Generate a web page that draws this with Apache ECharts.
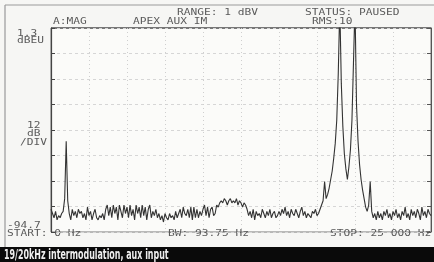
<!DOCTYPE html>
<html>
<head>
<meta charset="utf-8">
<script src="https://cdn.jsdelivr.net/npm/echarts@6/dist/echarts.min.js"></script>
<style>
    html, body { margin: 0; padding: 0; background: #f4f4f2; }
    #chart { width: 434px; height: 262px; }
</style>
</head>
<body>
<div id="chart"></div>
<script>
    // spectrum: one point every 100 Hz, 0 .. 25 000 Hz, level in dBV
    var freqStep = 100;
    var levels = [
        -84, -86, -88, -85, -89, -87, -88, -86, -85, -79,
        -52, -80, -86, -89, -84, -87, -85, -88, -84, -86,
        -85, -88, -86, -89, -83, -87, -85, -89, -86, -84,
        -88, -89, -87, -88, -86, -89, -84, -82, -87, -83,
        -88, -82, -86, -83, -89, -82, -85, -88, -82, -86,
        -83, -88, -82, -87, -84, -89, -82, -86, -83, -88,
        -82, -87, -83, -89, -84, -82, -88, -85, -87, -84,
        -88, -86, -89, -87, -90, -86, -88, -89, -86, -88,
        -87, -89, -85, -88, -86, -84, -88, -83, -86, -87,
        -84, -88, -83, -89, -83, -88, -84, -88, -85, -87,
        -84, -82, -87, -83, -88, -84, -83, -87, -86, -82,
        -83, -81, -80, -81, -79, -80, -82, -80, -79, -81,
        -80, -81, -79, -82, -80, -81, -83, -81, -82, -84,
        -87, -85, -88, -84, -89, -85, -87, -86, -88, -84,
        -86, -88, -85, -87, -84, -88, -86, -85, -88, -87,
        -85, -87, -84, -86, -83, -87, -85, -88, -84, -86,
        -87, -84, -86, -88, -85, -83, -87, -85, -88, -86,
        -87, -88, -85, -86, -84, -87, -86, -84, -82, -80,
        -71, -79, -77, -74, -70, -66, -60, -53, -42, -20,
        12, -25, -45, -58, -65, -70, -64, -56, -42, -15,
        12, -35, -52, -63, -70, -75, -79, -83, -85, -82,
        -71, -85, -88, -86, -89, -85, -88, -86, -89, -85,
        -87, -84, -88, -86, -89, -85, -87, -84, -88, -86,
        -89, -85, -87, -83, -88, -86, -89, -84, -87, -85,
        -88, -84, -86, -89, -83, -87, -85, -88, -84, -86,
        -87
    ];
    var yTop = 1.3, yBottom = -94.7, dbPerDiv = 12;
    var fStart = 0, fStop = 25000;
    var title = '19/20kHz intermodulation, aux input';

    // axis counted in dB above the bottom line so the divisions start at 0
    var points = levels.map(function (v, i) { return [i * freqStep, v - yBottom]; });

    var ink = '#5a5a5a';
    function label(txt, x, y) {
        return {
            type: 'text', x: x, y: y, scaleX: 1.4,
            style: { text: txt, font: '8px "DejaVu Sans Mono"', fill: ink, verticalAlign: 'middle' }
        };
    }

    var chart = echarts.init(document.getElementById('chart'), null, { renderer: 'canvas' });
    chart.setOption({
        animation: false,
        backgroundColor: '#f6f6f4',
        grid: { left: 51, top: 28, right: 3, bottom: 30, show: true, backgroundColor: '#fbfbf9', borderColor: '#777', borderWidth: 1 },
        xAxis: {
            type: 'value', min: fStart, max: fStop, interval: 2500,
            axisLine: { show: false }, axisTick: { show: false }, axisLabel: { show: false },
            splitLine: { show: true, lineStyle: { color: '#cfcfcf', type: [1, 3], width: 1 } }
        },
        yAxis: [{
            type: 'value', min: 0, max: yTop - yBottom, interval: dbPerDiv, position: 'left',
            axisLine: { show: true, lineStyle: { color: '#444', width: 1.2 } },
            axisTick: { show: true, inside: true, length: 4, lineStyle: { color: '#444' } },
            axisLabel: { show: false },
            splitLine: { show: true, lineStyle: { color: '#d6d6d6', type: [3, 3], width: 1 } }
        }, {
            type: 'value', min: 0, max: yTop - yBottom, interval: dbPerDiv, position: 'right',
            axisLine: { show: true, lineStyle: { color: '#555', width: 1 } },
            axisTick: { show: true, inside: true, length: 4, lineStyle: { color: '#555' } },
            axisLabel: { show: false }, splitLine: { show: false }
        }],
        series: [{
            type: 'line', data: points, showSymbol: false, clip: true,
            lineStyle: { color: '#333', width: 1.1 }
        }],
        graphic: [
            { type: 'line', shape: { x1: 5, y1: 5, x2: 434, y2: 5 }, style: { stroke: '#999', lineWidth: 1.2 } },
            { type: 'line', shape: { x1: 5, y1: 5, x2: 5, y2: 247 }, style: { stroke: '#999', lineWidth: 1.2 } },
            { type: 'line', shape: { x1: 51, y1: 28, x2: 431, y2: 28 }, style: { stroke: '#777', lineWidth: 2 } },
            label('RANGE: 1 dBV', 177, 13),
            label('STATUS: PAUSED', 305, 13),
            label('A:MAG', 53, 22),
            label('APEX AUX IM', 133, 22),
            label('RMS:10', 312, 22),
            label('1.3', 17, 34),
            label('dBEU', 17, 41),
            label('12', 27, 126),
            label('dB', 27, 134),
            label('/DIV', 20, 143),
            label('-94.7', 7, 226),
            label('START: 0 Hz', 7, 234),
            label('BW: 93.75 Hz', 168, 234),
            label('STOP: 25 000 Hz', 330, 234),
            { type: 'rect', shape: { x: 0, y: 247, width: 434, height: 15 }, style: { fill: '#0a0a0a' } },
            {
                type: 'text', x: 4, y: 255, scaleX: 0.63,
                style: { text: title, font: 'bold 14px "Liberation Sans Narrow", "DejaVu Sans Condensed", sans-serif', fill: '#eeeeee', verticalAlign: 'middle' }
            }
        ]
    });
</script>
</body>
</html>
